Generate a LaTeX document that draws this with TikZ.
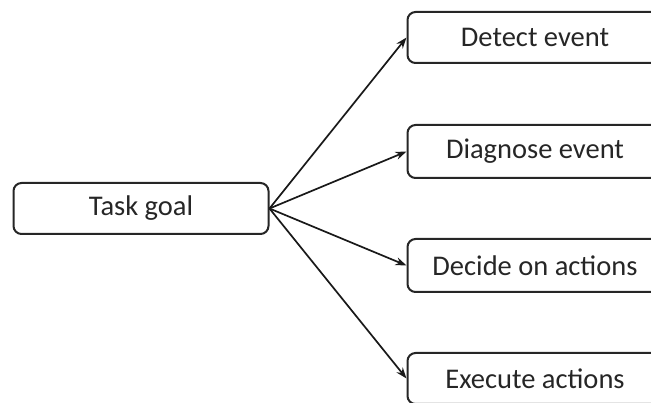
\documentclass[tikz,border=0pt]{standalone}
\usepackage{fontspec}
\setmainfont{Carlito}
\usetikzlibrary{arrows.meta}
\begin{document}
\begin{tikzpicture}[x=1pt,y=-1pt,
  box/.style={draw=black!85, line width=2pt, rounded corners=8pt, minimum width=255pt, inner sep=0pt, font=\fontsize{28.5}{31}\selectfont, text=black!85},
  conn/.style={line width=1.7pt, draw=black!90, -{Stealth[length=11pt,width=8pt]}}]
\useasboundingbox (0,0) rectangle (651,403);
\clip (0,0) rectangle (651,403);
\node[box, minimum height=51pt] (goal) at (141,208.5) {Task goal};
\node[box, minimum height=51pt] (detect) at (535,37.5) {Detect event};
\node[box, minimum height=53pt] (diag) at (535,151.5) {Diagnose event};
\node[box, minimum height=53pt] (decide) at (535,265.5) {Decide on actions};
\node[box, minimum height=51pt] (exec) at (535,378.5) {Execute actions};
\coordinate (src) at (goal.east);
\foreach \t in {detect,diag,decide,exec}
  \draw[conn] (src) -- (\t.west);
\end{tikzpicture}
\end{document}
